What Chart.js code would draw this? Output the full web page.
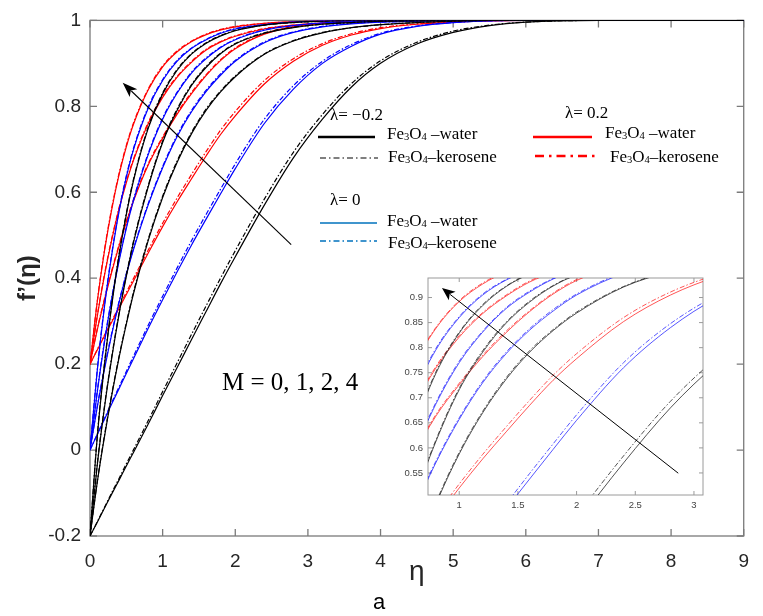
<!DOCTYPE html>
<html>
<head>
<meta charset="utf-8">
<script src="https://cdn.jsdelivr.net/npm/chart.js@4.4.1/dist/chart.umd.min.js"></script>
<style>
  body { margin: 0; background: #fff; }
  #wrap { position: relative; width: 763px; height: 616px; overflow: hidden; }
  #main { position: absolute; left: 0; top: 0; }
  #inset { position: absolute; left: 390px; top: 265px; background: #fff; }
  #keys { position: absolute; left: 0; top: 0; }
  .t { position: absolute; white-space: nowrap; font-family: "Liberation Serif", "Times New Roman", serif;
       font-size: 17px; line-height: 20px; color: #000; }
  .t .s { font-size: 0.62em; vertical-align: -0.08em; }
  #mlabel { font-size: 25px; line-height: 28px; }
  #sub { font-family: "Liberation Sans", Arial, sans-serif; font-size: 22px; line-height: 26px; }
</style>
</head>
<body>
<div id="wrap">
  <canvas id="main" width="763" height="616"></canvas>
  <canvas id="inset" width="320" height="250"></canvas>
  <svg id="keys" width="763" height="616">
    <line x1="318" y1="137" x2="375" y2="137" stroke="#000" stroke-width="2.6"/>
    <line x1="320" y1="158" x2="378" y2="158" stroke="#000" stroke-width="1.2" stroke-dasharray="6 3 1.5 3"/>
    <line x1="320" y1="223" x2="377" y2="223" stroke="#0072bd" stroke-width="1.5"/>
    <line x1="320" y1="241" x2="377" y2="241" stroke="#0072bd" stroke-width="1.5" stroke-dasharray="6 3 1.5 3"/>
    <line x1="533" y1="137" x2="592" y2="137" stroke="#ff0000" stroke-width="2.6"/>
    <line x1="535" y1="156" x2="595" y2="156" stroke="#ff0000" stroke-width="2.6" stroke-dasharray="9 5 2.5 5"/>
  </svg>
  <div class="t" style="left:330px;top:105px">λ= −0.2</div>
  <div class="t" style="left:387px;top:124px">Fe<span class="s">3</span>O<span class="s">4</span> –water</div>
  <div class="t" style="left:388px;top:147px">Fe<span class="s">3</span>O<span class="s">4</span>–kerosene</div>
  <div class="t" style="left:330px;top:190px">λ= 0</div>
  <div class="t" style="left:387px;top:211px">Fe<span class="s">3</span>O<span class="s">4</span> –water</div>
  <div class="t" style="left:388px;top:233px">Fe<span class="s">3</span>O<span class="s">4</span>–kerosene</div>
  <div class="t" style="left:565px;top:103px">λ= 0.2</div>
  <div class="t" style="left:605px;top:123px">Fe<span class="s">3</span>O<span class="s">4</span> –water</div>
  <div class="t" style="left:610px;top:147px">Fe<span class="s">3</span>O<span class="s">4</span>–kerosene</div>
  <div class="t" id="mlabel" style="left:222px;top:368px">M = 0, 1, 2, 4</div>
  <div class="t" id="sub" style="left:373px;top:589px">a</div>
</div>
<script>
// similarity variable grid shared by every profile
const eta = [0, 0.1, 0.2, 0.3, 0.4, 0.5, 0.6, 0.8, 1.0, 1.2, 1.4, 1.6, 1.8, 2.0, 2.4, 2.8, 3.2, 3.6, 4.0, 4.5, 5.0, 5.5, 6.0, 7.0, 8.0, 9.0];
const mValues = [0, 1, 2, 4];

// lambda = 0.2 (red)
const redWaterM0 = [0.2, 0.233, 0.266, 0.298, 0.33, 0.362, 0.394, 0.458, 0.52, 0.578, 0.632, 0.685, 0.735, 0.778, 0.852, 0.905, 0.942, 0.966, 0.981, 0.991, 0.996, 0.999, 1, 1, 1, 1];
const redWaterM1 = [0.2, 0.28, 0.35, 0.415, 0.475, 0.53, 0.58, 0.663, 0.726, 0.782, 0.83, 0.872, 0.907, 0.934, 0.968, 0.985, 0.993, 0.997, 0.999, 1, 1, 1, 1, 1, 1, 1];
const redWaterM2 = [0.2, 0.311, 0.407, 0.49, 0.561, 0.622, 0.675, 0.759, 0.821, 0.868, 0.903, 0.931, 0.95, 0.963, 0.98, 0.989, 0.994, 0.997, 0.998, 0.999, 1, 1, 1, 1, 1, 1];
const redWaterM4 = [0.2, 0.345, 0.464, 0.561, 0.641, 0.706, 0.759, 0.838, 0.892, 0.927, 0.951, 0.967, 0.978, 0.985, 0.993, 0.997, 0.999, 1, 1, 1, 1, 1, 1, 1, 1, 1];
const redKeroM0 = [0.2, 0.234, 0.268, 0.301, 0.334, 0.367, 0.4, 0.465, 0.528, 0.587, 0.642, 0.695, 0.745, 0.788, 0.86, 0.911, 0.946, 0.969, 0.983, 0.992, 0.997, 0.999, 1, 1, 1, 1];
const redKeroM1 = [0.2, 0.282, 0.353, 0.418, 0.478, 0.533, 0.583, 0.666, 0.729, 0.785, 0.833, 0.874, 0.909, 0.936, 0.969, 0.986, 0.993, 0.997, 0.999, 1, 1, 1, 1, 1, 1, 1];
const redKeroM2 = [0.2, 0.313, 0.41, 0.493, 0.564, 0.625, 0.678, 0.762, 0.824, 0.87, 0.905, 0.933, 0.951, 0.964, 0.981, 0.989, 0.994, 0.997, 0.998, 0.999, 1, 1, 1, 1, 1, 1];
const redKeroM4 = [0.2, 0.347, 0.467, 0.564, 0.644, 0.709, 0.762, 0.84, 0.894, 0.929, 0.952, 0.968, 0.979, 0.986, 0.993, 0.997, 0.999, 1, 1, 1, 1, 1, 1, 1, 1, 1];

// lambda = 0 (blue)
const blueWaterM0 = [0, 0.036, 0.072, 0.108, 0.143, 0.178, 0.213, 0.283, 0.35, 0.415, 0.478, 0.538, 0.597, 0.655, 0.76, 0.84, 0.9, 0.94, 0.968, 0.986, 0.995, 0.999, 1, 1, 1, 1];
const blueWaterM1 = [0, 0.1, 0.189, 0.27, 0.343, 0.408, 0.467, 0.57, 0.657, 0.73, 0.788, 0.835, 0.873, 0.905, 0.948, 0.972, 0.985, 0.992, 0.996, 0.998, 1, 1, 1, 1, 1, 1];
const blueWaterM2 = [0, 0.135, 0.252, 0.353, 0.44, 0.516, 0.581, 0.687, 0.77, 0.831, 0.878, 0.911, 0.937, 0.955, 0.977, 0.988, 0.994, 0.997, 0.999, 1, 1, 1, 1, 1, 1, 1];
const blueWaterM4 = [0, 0.185, 0.335, 0.455, 0.555, 0.635, 0.7, 0.795, 0.86, 0.905, 0.935, 0.955, 0.97, 0.98, 0.99, 0.996, 0.999, 1, 1, 1, 1, 1, 1, 1, 1, 1];
const blueKeroM0 = [0, 0.037, 0.074, 0.111, 0.147, 0.183, 0.219, 0.29, 0.358, 0.424, 0.488, 0.549, 0.608, 0.666, 0.77, 0.848, 0.905, 0.944, 0.97, 0.987, 0.995, 0.999, 1, 1, 1, 1];
const blueKeroM1 = [0, 0.102, 0.192, 0.273, 0.346, 0.411, 0.47, 0.573, 0.66, 0.733, 0.791, 0.838, 0.876, 0.907, 0.95, 0.973, 0.986, 0.993, 0.996, 0.998, 1, 1, 1, 1, 1, 1];
const blueKeroM2 = [0, 0.137, 0.255, 0.356, 0.443, 0.519, 0.584, 0.69, 0.773, 0.833, 0.88, 0.913, 0.938, 0.956, 0.978, 0.988, 0.994, 0.997, 0.999, 1, 1, 1, 1, 1, 1, 1];
const blueKeroM4 = [0, 0.187, 0.338, 0.458, 0.558, 0.638, 0.703, 0.798, 0.862, 0.907, 0.936, 0.956, 0.971, 0.981, 0.99, 0.996, 0.999, 1, 1, 1, 1, 1, 1, 1, 1, 1];

// lambda = -0.2 (black)
const blackWaterM0 = [-0.2, -0.168, -0.135, -0.102, -0.07, -0.037, -0.005, 0.06, 0.127, 0.192, 0.258, 0.323, 0.388, 0.45, 0.57, 0.68, 0.77, 0.845, 0.9, 0.945, 0.972, 0.988, 0.996, 1, 1, 1];
const blackWaterM1 = [-0.2, -0.075, 0.032, 0.128, 0.215, 0.293, 0.365, 0.487, 0.588, 0.67, 0.737, 0.791, 0.834, 0.869, 0.921, 0.952, 0.971, 0.983, 0.99, 0.995, 0.998, 1, 1, 1, 1, 1];
const blackWaterM2 = [-0.2, -0.035, 0.1, 0.215, 0.316, 0.404, 0.484, 0.612, 0.716, 0.791, 0.849, 0.891, 0.923, 0.945, 0.97, 0.983, 0.991, 0.995, 0.998, 0.999, 1, 1, 1, 1, 1, 1];
const blackWaterM4 = [-0.2, 0.03, 0.2, 0.338, 0.453, 0.548, 0.628, 0.748, 0.829, 0.884, 0.922, 0.947, 0.964, 0.976, 0.989, 0.995, 0.998, 1, 1, 1, 1, 1, 1, 1, 1, 1];
const blackKeroM0 = [-0.2, -0.167, -0.133, -0.099, -0.066, -0.032, 0.001, 0.068, 0.136, 0.203, 0.27, 0.336, 0.401, 0.464, 0.584, 0.693, 0.781, 0.853, 0.906, 0.949, 0.975, 0.989, 0.996, 1, 1, 1];
const blackKeroM1 = [-0.2, -0.073, 0.035, 0.131, 0.218, 0.296, 0.368, 0.49, 0.591, 0.673, 0.74, 0.794, 0.836, 0.871, 0.922, 0.953, 0.972, 0.983, 0.99, 0.995, 0.998, 1, 1, 1, 1, 1];
const blackKeroM2 = [-0.2, -0.032, 0.103, 0.218, 0.319, 0.407, 0.487, 0.615, 0.719, 0.794, 0.851, 0.893, 0.924, 0.946, 0.971, 0.984, 0.991, 0.995, 0.998, 0.999, 1, 1, 1, 1, 1, 1];
const blackKeroM4 = [-0.2, 0.033, 0.203, 0.341, 0.456, 0.551, 0.631, 0.751, 0.831, 0.886, 0.923, 0.948, 0.965, 0.977, 0.989, 0.995, 0.998, 1, 1, 1, 1, 1, 1, 1, 1, 1];

const xTicks = [0, 1, 2, 3, 4, 5, 6, 7, 8, 9];
const yTicks = [-0.2, 0, 0.2, 0.4, 0.6, 0.8, 1];
const insetXTicks = [1, 1.5, 2, 2.5, 3];
const insetYTicks = [0.55, 0.6, 0.65, 0.7, 0.75, 0.8, 0.85, 0.9];

const families = [
  { lambda: -0.2, color: '#000000', soft: 'rgba(40,40,40,0.8)', water: [blackWaterM0, blackWaterM1, blackWaterM2, blackWaterM4], kero: [blackKeroM0, blackKeroM1, blackKeroM2, blackKeroM4] },
  { lambda: 0, color: '#0000ff', soft: 'rgba(30,30,255,0.75)', water: [blueWaterM0, blueWaterM1, blueWaterM2, blueWaterM4], kero: [blueKeroM0, blueKeroM1, blueKeroM2, blueKeroM4] },
  { lambda: 0.2, color: '#ff0000', soft: 'rgba(255,30,30,0.75)', water: [redWaterM0, redWaterM1, redWaterM2, redWaterM4], kero: [redKeroM0, redKeroM1, redKeroM2, redKeroM4] }
];

function buildSets(width, useSoft) {
  const sets = [];
  families.forEach(f => {
    mValues.forEach((m, i) => {
      sets.push({
        label: 'water λ=' + f.lambda + ' M=' + m,
        data: eta.map((e, k) => ({ x: e, y: f.water[i][k] })),
        borderColor: useSoft ? f.soft : f.color,
        borderWidth: width
      });
      sets.push({
        label: 'kerosene λ=' + f.lambda + ' M=' + m,
        data: eta.map((e, k) => ({ x: e, y: f.kero[i][k] })),
        borderColor: useSoft ? f.soft : f.color,
        borderWidth: width,
        borderDash: [5, 2, 1.5, 2]
      });
    });
  });
  return sets;
}

// box with inward ticks on all four sides
const frame = {
  id: 'frame',
  beforeDatasetsDraw(chart, args, o) {
    const { ctx, chartArea: a, scales: { x, y } } = chart;
    ctx.save();
    ctx.strokeStyle = o.color;
    ctx.lineWidth = o.width;
    ctx.beginPath();
    x.ticks.forEach(t => {
      const px = x.getPixelForValue(t.value);
      ctx.moveTo(px, a.bottom); ctx.lineTo(px, a.bottom - o.tick);
      ctx.moveTo(px, a.top); ctx.lineTo(px, a.top + o.tick);
    });
    y.ticks.forEach(t => {
      const py = y.getPixelForValue(t.value);
      ctx.moveTo(a.left, py); ctx.lineTo(a.left + o.tick, py);
      ctx.moveTo(a.right, py); ctx.lineTo(a.right - o.tick, py);
    });
    ctx.stroke();
    ctx.strokeRect(a.left, a.top, a.right - a.left, a.bottom - a.top);
    ctx.restore();
  }
};

// trend arrow, given in data coordinates
const arrow = {
  id: 'arrow',
  afterDatasetsDraw(chart, args, o) {
    const { ctx, scales: { x, y } } = chart;
    const x0 = x.getPixelForValue(o.from[0]), y0 = y.getPixelForValue(o.from[1]);
    const x1 = x.getPixelForValue(o.to[0]), y1 = y.getPixelForValue(o.to[1]);
    const ang = Math.atan2(y1 - y0, x1 - x0);
    const c = Math.cos(ang), s = Math.sin(ang);
    ctx.save();
    ctx.strokeStyle = '#000';
    ctx.fillStyle = '#000';
    ctx.lineWidth = o.width;
    ctx.beginPath();
    ctx.moveTo(x0, y0);
    ctx.lineTo(x1 - c * o.head * 0.8, y1 - s * o.head * 0.8);
    ctx.stroke();
    ctx.beginPath();
    ctx.moveTo(x1, y1);
    ctx.lineTo(x1 - c * o.head + s * o.half, y1 - s * o.head - c * o.half);
    ctx.lineTo(x1 - c * o.head * 0.75, y1 - s * o.head * 0.75);
    ctx.lineTo(x1 - c * o.head - s * o.half, y1 - s * o.head + c * o.half);
    ctx.closePath();
    ctx.fill();
    ctx.restore();
  }
};

const tickFont = { family: '"Liberation Sans", Arial, sans-serif', size: 19 };
const fmt = v => String(Number(v.toFixed(2)));

new Chart(document.getElementById('main'), {
  type: 'line',
  data: { datasets: buildSets(1.2, false) },
  plugins: [frame, arrow],
  options: {
    responsive: false,
    animation: false,
    devicePixelRatio: 1,
    layout: { padding: { left: 0, top: 14, right: 11, bottom: 0 } },
    elements: { point: { radius: 0 }, line: { cubicInterpolationMode: 'monotone', fill: false } },
    plugins: {
      legend: { display: false },
      tooltip: { enabled: false },
      frame: { color: '#7a7a7a', width: 1.3, tick: 7 },
      arrow: { from: [2.77, 0.478], to: [0.45, 0.855], width: 1.1, head: 15, half: 5.5 }
    },
    scales: {
      x: {
        type: 'linear', min: 0, max: 9,
        afterBuildTicks: s => { s.ticks = xTicks.map(v => ({ value: v })); },
        ticks: { font: tickFont, color: '#262626', padding: 14, maxRotation: 0, autoSkip: false, callback: fmt },
        grid: { display: false, drawTicks: false },
        border: { display: false },
        title: { display: true, text: 'η', color: '#262626',
                 font: { family: '"Liberation Sans", Arial, sans-serif', size: 28 }, padding: { top: 0, bottom: 27 } },
        afterFit: s => { s.height = 80; }
      },
      y: {
        type: 'linear', min: -0.2, max: 1,
        afterBuildTicks: s => { s.ticks = yTicks.map(v => ({ value: v })); },
        ticks: { font: tickFont, color: '#262626', padding: 9, autoSkip: false, callback: fmt },
        grid: { display: false, drawTicks: false },
        border: { display: false },
        title: { display: true, text: 'f’(η)', color: '#262626',
                 font: { family: '"Liberation Sans", Arial, sans-serif', size: 24, weight: 'bold' }, padding: { top: 14, bottom: 0 } },
        afterFit: s => { s.width = 90; }
      }
    }
  }
});

const insetFont = { family: '"Liberation Sans", Arial, sans-serif', size: 9.5 };

new Chart(document.getElementById('inset'), {
  type: 'line',
  data: { datasets: buildSets(1, true) },
  plugins: [frame, arrow],
  options: {
    responsive: false,
    animation: false,
    devicePixelRatio: 1,
    layout: { padding: { left: 0, top: 13, right: 7, bottom: 0 } },
    elements: { point: { radius: 0 }, line: { cubicInterpolationMode: 'monotone', fill: false } },
    plugins: {
      legend: { display: false },
      tooltip: { enabled: false },
      frame: { color: '#9a9a9a', width: 1, tick: 4 },
      arrow: { from: [2.866, 0.5495], to: [0.853, 0.919], width: 1, head: 13, half: 5.5 }
    },
    scales: {
      x: {
        type: 'linear', min: 0.734, max: 3.077,
        afterBuildTicks: s => { s.ticks = insetXTicks.map(v => ({ value: v })); },
        ticks: { font: insetFont, color: '#444', padding: 5, maxRotation: 0, autoSkip: false, callback: fmt },
        grid: { display: false, drawTicks: false },
        border: { display: false },
        afterFit: s => { s.height = 20; }
      },
      y: {
        type: 'linear', min: 0.506, max: 0.939,
        afterBuildTicks: s => { s.ticks = insetYTicks.map(v => ({ value: v })); },
        ticks: { font: insetFont, color: '#444', padding: 5, autoSkip: false, callback: fmt },
        grid: { display: false, drawTicks: false },
        border: { display: false },
        afterFit: s => { s.width = 38; }
      }
    }
  }
});
</script>
</body>
</html>
